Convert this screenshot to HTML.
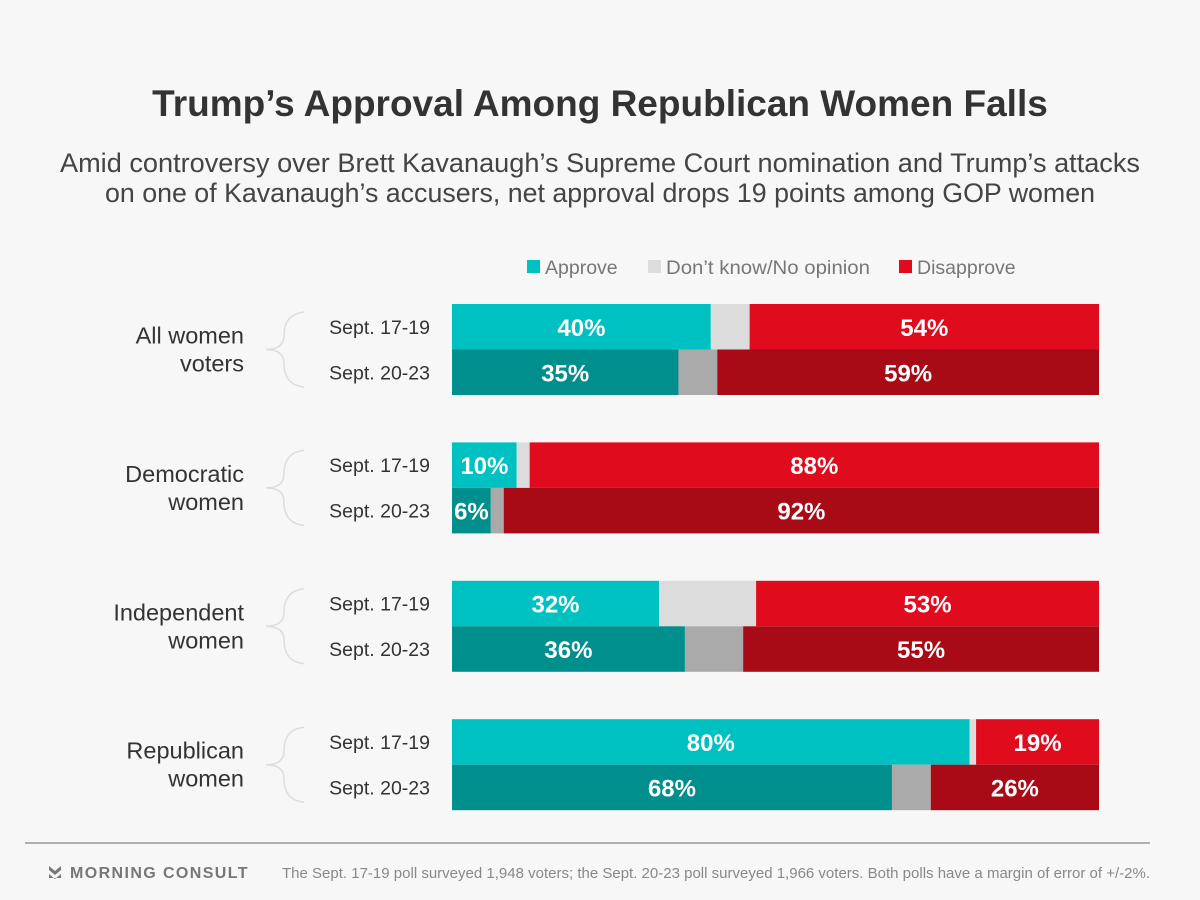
<!DOCTYPE html>
<html><head><meta charset="utf-8"><style>
body{margin:0;background:#f7f7f7;font-family:"Liberation Sans",sans-serif;}
#c{position:relative;width:1200px;height:900px;overflow:hidden;background:#f7f7f7}
</style></head><body>
<div id="c">
<svg id="s" width="1200" height="900">
<text x="600" y="116" text-anchor="middle" font-size="37" font-weight="bold" fill="#333">Trump’s Approval Among Republican Women Falls</text>
<text x="60" y="172" font-size="26.5" fill="#444" textLength="1080" lengthAdjust="spacingAndGlyphs">Amid controversy over Brett Kavanaugh’s Supreme Court nomination and Trump’s attacks</text>
<text x="105" y="202" font-size="26.5" fill="#444" textLength="990" lengthAdjust="spacingAndGlyphs">on one of Kavanaugh’s accusers, net approval drops 19 points among GOP women</text>
<g>
<rect x="527" y="260" width="13" height="13" fill="#00c1c1"/>
<text x="545" y="274" font-size="19.5" fill="#777">Approve</text>
<rect x="648" y="260" width="13" height="13" fill="#dcdcdc"/>
<text x="666" y="274" font-size="19.5" fill="#777" textLength="204" lengthAdjust="spacingAndGlyphs">Don’t know/No opinion</text>
<rect x="899" y="260" width="13" height="13" fill="#e00b1c"/>
<text x="917" y="274" font-size="19.5" fill="#777">Disapprove</text>
</g>
<line x1="25" y1="843" x2="1150" y2="843" stroke="#999" stroke-width="1.5"/>
<path d="M49 866 l6 5 l6 -5 v4 l-6 5 l-6 -5z M49 874 l6 5 l6 -5 v4 h-12z" fill="#777"/>
<text x="70" y="878" font-size="16" font-weight="bold" fill="#777" letter-spacing="1.4">MORNING CONSULT</text>
<text x="282" y="878" font-size="15" fill="#888" textLength="868" lengthAdjust="spacingAndGlyphs">The Sept. 17-19 poll surveyed 1,948 voters; the Sept. 20-23 poll surveyed 1,966 voters. Both polls have a margin of error of +/-2%.</text>
</svg>
</div>
<script>
const groups=[["All women","voters"],["Democratic","women"],["Independent","women"],["Republican","women"]];
const periods=["Sept. 17-19","Sept. 20-23"];
const approve=[[40,35],[10,6],[32,36],[80,68]];
const dontKnow=[[6,6],[2,2],[15,9],[1,6]];
const disapprove=[[54,59],[88,92],[53,55],[19,26]];
const NS="http://www.w3.org/2000/svg";
const svg=document.getElementById('s');
const x0=452,W=647,top0=304,gstep=138.4,bh=45.5;
const cols=[["#00c1c1","#dcdcdc","#e00b1c"],["#008f8c","#aaaaaa","#a80a16"]];
function el(t,a){const e=document.createElementNS(NS,t);for(const k in a)e.setAttribute(k,a[k]);svg.appendChild(e);return e;}
groups.forEach((g,gi)=>{
  const gy=top0+gi*gstep;
  const mid=gy+bh;
  const t1=el('text',{x:244,y:mid-6,'text-anchor':'end','font-size':23.5,fill:'#333'});t1.textContent=g[0];
  
  
  const t2=el('text',{x:244,y:mid+22,'text-anchor':'end','font-size':23.5,fill:'#333'});t2.textContent=g[1];
  
  
  const br=el('path',{d:`M304 ${gy+8} Q284 ${gy+10} 284 ${mid-14} Q284 ${mid} 266 ${mid} Q284 ${mid} 284 ${mid+14} Q284 ${gy+2*bh-10} 304 ${gy+2*bh-8}`,fill:'none',stroke:'#ddd','stroke-width':1.5});
  
  
  periods.forEach((p,pi)=>{
    const y=gy+pi*bh;
    const pl=el('text',{x:430,y:y+bh/2+7,'text-anchor':'end','font-size':19.5,fill:'#333'});pl.textContent=p;
    
    
    const vals=[approve[gi][pi],dontKnow[gi][pi],disapprove[gi][pi]];
    const tot=vals[0]+vals[1]+vals[2];
    let x=x0;
    vals.forEach((v,si)=>{
      const w=v/tot*W;
      const r=el('rect',{x:x,y:y,width:w,height:bh,fill:cols[pi][si]});
      
      
      if(si!==1){
        const lt=el('text',{x:x+w/2,y:y+bh/2+9,'text-anchor':'middle','font-size':24,'font-weight':'bold',fill:'#fff'});
        lt.textContent=v+'%';
        
        
      }
      x+=w;
    });
  });
});
</script>
</body></html>
